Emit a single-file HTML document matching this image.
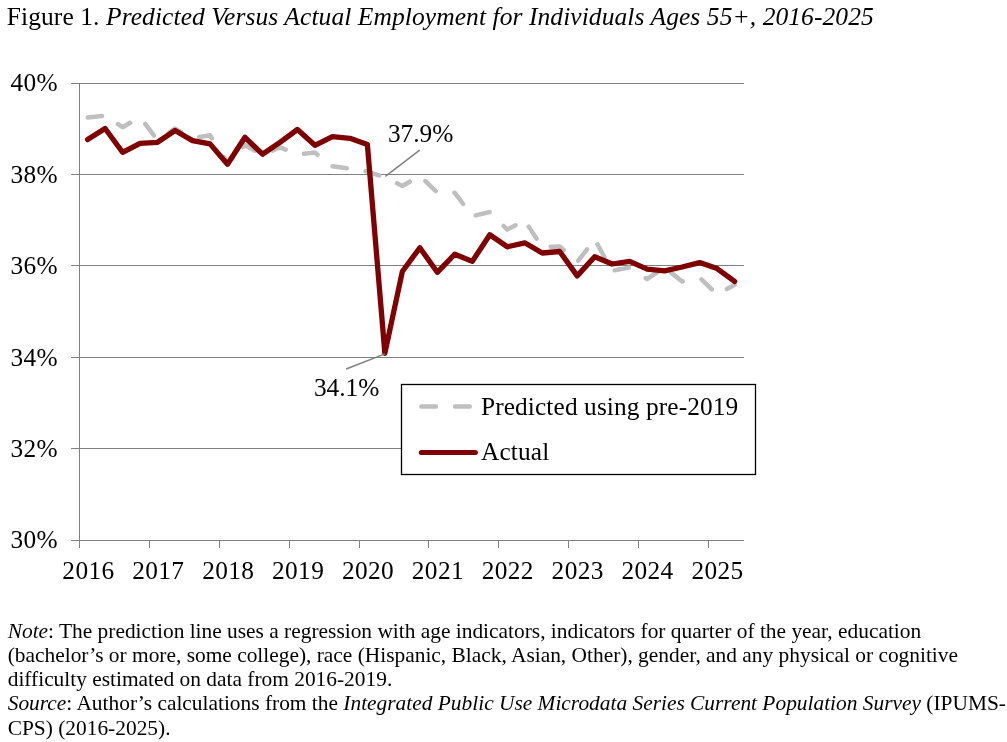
<!DOCTYPE html>
<html><head><meta charset="utf-8"><style>
html,body{margin:0;padding:0;background:#fff;}
body{width:1007px;height:742px;overflow:hidden;position:relative;}
svg{position:absolute;left:0;top:0;will-change:transform;}
text{font-family:"Liberation Serif",serif;fill:#000;}
</style></head><body>
<svg width="1007" height="742" viewBox="0 0 1007 742">
<text id="title" x="6.80" y="25" font-size="25.5" text-anchor="start" textLength="866.90" lengthAdjust="spacing">Figure 1. <tspan font-style="italic">Predicted Versus Actual Employment for Individuals Ages 55+, 2016-2025</tspan></text>
<g stroke="#808080" stroke-width="1" shape-rendering="crispEdges"><line x1="71" y1="83.0" x2="744" y2="83.0" /><line x1="71" y1="174.4" x2="744" y2="174.4" /><line x1="71" y1="265.8" x2="744" y2="265.8" /><line x1="71" y1="357.2" x2="744" y2="357.2" /><line x1="71" y1="448.6" x2="744" y2="448.6" /><line x1="71" y1="540.0" x2="744" y2="540.0" /><line x1="79.5" y1="83" x2="79.5" y2="547.5" /><line x1="149.5" y1="540" x2="149.5" y2="547.5" /><line x1="219.5" y1="540" x2="219.5" y2="547.5" /><line x1="289.5" y1="540" x2="289.5" y2="547.5" /><line x1="359.5" y1="540" x2="359.5" y2="547.5" /><line x1="428.5" y1="540" x2="428.5" y2="547.5" /><line x1="498.5" y1="540" x2="498.5" y2="547.5" /><line x1="568.5" y1="540" x2="568.5" y2="547.5" /><line x1="638.5" y1="540" x2="638.5" y2="547.5" /><line x1="708.5" y1="540" x2="708.5" y2="547.5" /></g>
<text id="y40" x="57.70" y="91.3" font-size="25.33" text-anchor="end" textLength="47.10" lengthAdjust="spacing">40%</text><text id="y38" x="57.70" y="182.7" font-size="25.33" text-anchor="end" textLength="47.10" lengthAdjust="spacing">38%</text><text id="y36" x="57.70" y="274.1" font-size="25.33" text-anchor="end" textLength="47.10" lengthAdjust="spacing">36%</text><text id="y34" x="57.70" y="365.5" font-size="25.33" text-anchor="end" textLength="47.10" lengthAdjust="spacing">34%</text><text id="y32" x="57.70" y="456.9" font-size="25.33" text-anchor="end" textLength="47.10" lengthAdjust="spacing">32%</text><text id="y30" x="57.70" y="548.3" font-size="25.33" text-anchor="end" textLength="47.10" lengthAdjust="spacing">30%</text><text id="x2016" x="88.24" y="578.8" font-size="25.33" text-anchor="middle" textLength="51.80" lengthAdjust="spacing">2016</text><text id="x2017" x="158.13" y="578.8" font-size="25.33" text-anchor="middle" textLength="51.80" lengthAdjust="spacing">2017</text><text id="x2018" x="228.03" y="578.8" font-size="25.33" text-anchor="middle" textLength="51.80" lengthAdjust="spacing">2018</text><text id="x2019" x="297.92" y="578.8" font-size="25.33" text-anchor="middle" textLength="51.80" lengthAdjust="spacing">2019</text><text id="x2020" x="367.82" y="578.8" font-size="25.33" text-anchor="middle" textLength="51.80" lengthAdjust="spacing">2020</text><text id="x2021" x="437.71" y="578.8" font-size="25.33" text-anchor="middle" textLength="51.80" lengthAdjust="spacing">2021</text><text id="x2022" x="507.61" y="578.8" font-size="25.33" text-anchor="middle" textLength="51.80" lengthAdjust="spacing">2022</text><text id="x2023" x="577.50" y="578.8" font-size="25.33" text-anchor="middle" textLength="51.80" lengthAdjust="spacing">2023</text><text id="x2024" x="647.39" y="578.8" font-size="25.33" text-anchor="middle" textLength="51.80" lengthAdjust="spacing">2024</text><text id="x2025" x="717.29" y="578.8" font-size="25.33" text-anchor="middle" textLength="51.80" lengthAdjust="spacing">2025</text>
<path d="M87.75,117.48 L102.07,115.93M117.88,124.09 L122.57,127.20 L130.15,122.78M145.18,123.83 L153.82,135.34M168.81,132.76 L175.03,128.60 L181.09,131.93M199.32,137.07 L210.00,135.30 L211.91,138.32M223.83,157.21 L227.49,163.00 L232.75,157.59M243.01,147.02 L244.97,145.00 L255.03,150.75M272.44,150.61 L279.95,147.30 L285.69,149.63M303.90,153.73 L314.92,152.60 L317.53,154.65M332.56,166.32 L346.83,168.28M365.43,171.28 L367.38,171.60 L379.21,175.39M397.04,183.33 L402.35,186.00 L409.64,181.71M425.41,181.11 L435.75,191.13M454.36,192.80 L454.81,192.80 L463.16,203.98M475.66,215.39 L489.66,212.03M503.66,225.97 L507.26,229.60 L515.50,225.31M528.75,226.61 L536.64,238.65M550.71,246.81 L559.72,246.40 L563.74,249.98M578.21,260.71 L587.05,249.34M597.44,244.42 L604.46,256.99M614.69,270.33 L628.84,267.66M645.80,278.11 L647.15,279.00 L657.83,271.98M671.36,272.88 L682.12,281.50 L682.72,281.36M701.49,279.33 L711.81,289.37M726.90,289.06 L734.58,284.80" fill="none" stroke="#bfbfbf" stroke-width="4.5" stroke-linecap="round" stroke-linejoin="round"/>
<polyline points="87.60,139.60 105.09,128.50 122.57,152.30 140.06,143.30 157.54,142.30 175.03,130.50 192.52,140.60 210.00,143.90 227.49,164.30 244.97,137.30 262.46,154.20 279.95,142.40 297.43,129.50 314.92,145.30 332.40,136.60 349.89,138.30 367.38,144.50 384.86,353.30 402.35,271.50 419.83,247.70 437.32,272.30 454.81,254.20 472.29,261.40 489.78,234.70 507.26,246.80 524.75,242.80 542.24,253.00 559.72,251.50 577.21,275.90 594.69,256.80 612.18,264.00 629.67,261.40 647.15,269.10 664.64,270.90 682.12,267.00 699.61,262.60 717.10,268.60 734.58,281.40" fill="none" stroke="#7f0000" stroke-width="5.3" stroke-linecap="round" stroke-linejoin="round"/>
<line x1="385.4" y1="176.3" x2="419.7" y2="150.2" stroke="#808080" stroke-width="1.5"/>
<line x1="346.2" y1="369" x2="384.9" y2="353.9" stroke="#808080" stroke-width="1.5"/>
<text id="a379" x="387.90" y="142" font-size="25.33" text-anchor="start">37.9%</text>
<text id="a341" x="313.90" y="396.1" font-size="25.33" text-anchor="start">34.1%</text>
<rect x="401.5" y="384.5" width="354" height="90" fill="#fff" stroke="#000" stroke-width="1.3"/>
<path d="M421.35,406.5 L435.95,406.5 M455.05,406.5 L469.75,406.5" stroke="#bfbfbf" stroke-width="4.5" stroke-linecap="round"/>
<line x1="421.3" y1="452.5" x2="475.4" y2="452.5" stroke="#7f0000" stroke-width="5" stroke-linecap="round"/>
<text id="leg1" x="481.00" y="414.9" font-size="25.33" text-anchor="start" textLength="257.20" lengthAdjust="spacing">Predicted using pre-2019</text>
<text id="leg2" x="481.00" y="459.7" font-size="25.33" text-anchor="start" textLength="68.30" lengthAdjust="spacing">Actual</text>
<text id="n1" x="7.70" y="637.5" font-size="21.4" text-anchor="start"><tspan font-style="italic">Note</tspan>: The prediction line uses a regression with age indicators, indicators for quarter of the year, education</text>
<text id="n2" x="7.70" y="662.3" font-size="21.4" text-anchor="start">(bachelor’s or more, some college), race (Hispanic, Black, Asian, Other), gender, and any physical or cognitive</text>
<text id="n3" x="7.70" y="686.4" font-size="21.4" text-anchor="start">difficulty estimated on data from 2016-2019.</text>
<text id="n4" x="7.70" y="710.2" font-size="21.4" text-anchor="start"><tspan font-style="italic">Source</tspan>: Author’s calculations from the <tspan font-style="italic">Integrated Public Use Microdata Series Current Population Survey</tspan> (IPUMS-</text>
<text id="n5" x="7.70" y="734.8" font-size="21.4" text-anchor="start">CPS) (2016-2025).</text>
</svg>
</body></html>
